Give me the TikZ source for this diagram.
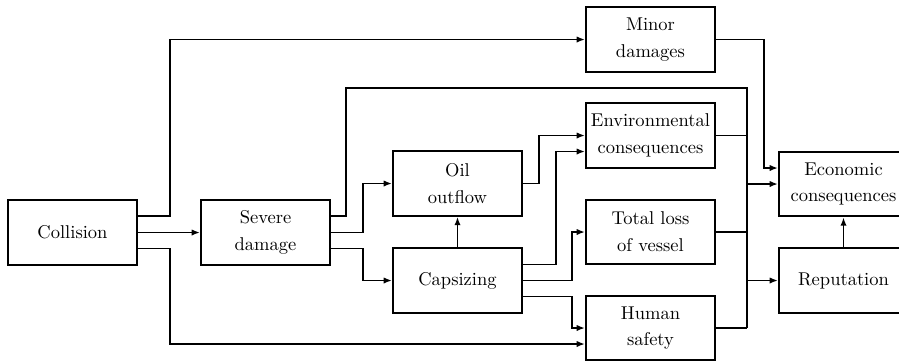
\documentclass[tikz,border=0pt]{standalone}
\usetikzlibrary{arrows.meta,calc}
\begin{document}
\begin{tikzpicture}[x=0.54pt,y=-0.54pt,
  line width=1pt,
  box/.style={draw,line width=1pt,minimum width=69.7pt,minimum height=35pt,inner sep=0pt,align=center,font=\fontsize{10}{14.5}\selectfont},
  arr/.style={-{Latex[length=4.5pt,width=3.4pt]}}]
\useasboundingbox (0,0) rectangle (899,362);
\node[box] (coll) at (72.5,232.5) {Collision};
\node[box] (sev) at (265.5,232.5) {Severe\\damage};
\node[box] (oil) at (457.5,183.5) {Oil\\outflow};
\node[box] (cap) at (457.5,280.5) {Capsizing};
\node[box] (minor) at (650.5,39.5) {Minor\\damages};
\node[box] (env) at (650.5,135.5) {Environmental\\consequences};
\node[box] (tot) at (650.5,232) {Total loss\\of vessel};
\node[box] (hum) at (650.5,328) {Human\\safety};
\node[box] (eco) at (843.5,184) {Economic\\consequences};
\node[box] (rep) at (843.5,280.5) {Reputation};
\coordinate (bustop) at (747,88);
\coordinate (busbot) at (747,328);
% collision
\draw[arr] ($(coll.east)+(0,-16.5)$) -- ++(32,0) |- (minor.west);
\draw[arr] (coll) -- (sev);
\draw[arr] ($(coll.east)+(0,16)$) -- ++(32,0) |- ($(hum.west)+(0,16)$);
% severe damage
\draw ($(sev.east)+(0,-16.5)$) -- ++(15,0) |- (bustop) -- (busbot);
\draw[arr] (sev.east) -- ++(32,0) |- (oil.west);
\draw[arr] ($(sev.east)+(0,16)$) -- ++(32,0) |- (cap.west);
% capsizing, oil
\draw[arr] (cap) -- (oil);
\draw[arr] (oil.east) -- ++(16,0) |- (env.west);
\draw[arr] ($(cap.east)+(0,-16)$) -- ++(33,0) |- ($(env.west)+(0,16)$);
\draw[arr] (cap.east) -- ++(49,0) |- (tot.west);
\draw[arr] ($(cap.east)+(0,16)$) -- ++(49,0) |- (hum.west);
% outputs to bus
\draw (env.east) -- (env.east -| bustop);
\draw (tot.east) -- (tot.east -| bustop);
\draw (hum.east) -- (busbot);
\draw[arr] (minor.east) -- ++(48,0) |- ($(eco.west)+(0,-16)$);
\draw[arr] (eco.west -| bustop) -- (eco.west);
\draw[arr] (rep.west -| bustop) -- (rep.west);
\draw[arr] (rep) -- (eco);
\end{tikzpicture}
\end{document}
